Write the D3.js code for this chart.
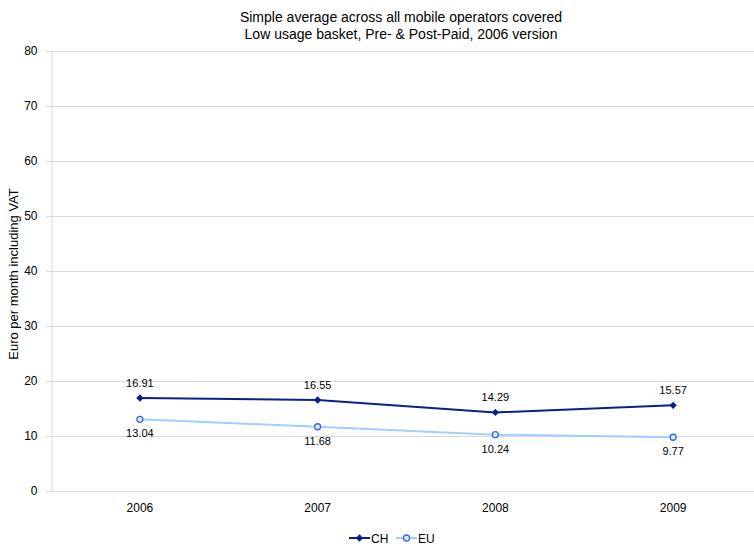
<!DOCTYPE html>
<html>
<head>
<meta charset="utf-8">
<script src="https://cdn.jsdelivr.net/npm/d3@7"></script>
<style>
  html, body { margin: 0; padding: 0; background: #fff; }
  svg { display: block; font-family: "Liberation Sans", Arial, sans-serif; }
</style>
</head>
<body>
<svg id="chart" width="754" height="549"></svg>
<script>
// Yearly averages, Euro per month including VAT
const years = ["2006", "2007", "2008", "2009"];
const chValues = [16.91, 16.55, 14.29, 15.57];
const euValues = [13.04, 11.68, 10.24, 9.77];
const yTicks = [0, 10, 20, 30, 40, 50, 60, 70, 80];
const titleLines = [
  "Simple average across all mobile operators covered",
  "Low usage basket, Pre- & Post-Paid, 2006 version"
];

const svg = d3.select("#chart");
const margin = { left: 51, top: 51, right: -8, bottom: 58 };
const W = 754, H = 549;
const plotW = W - margin.left - margin.right;
const plotH = H - margin.top - margin.bottom;

const x = d3.scaleBand().domain(years).range([margin.left, margin.left + plotW]);
const y = d3.scaleLinear().domain([0, 80]).range([margin.top + plotH, margin.top]);

// Gridlines
svg.append("g")
  .selectAll("line")
  .data(yTicks)
  .join("line")
  .attr("x1", margin.left - 5)
  .attr("x2", W)
  .attr("y1", d => Math.round(y(d)) + 0.5)
  .attr("y2", d => Math.round(y(d)) + 0.5)
  .attr("stroke", "#d9d9d9")
  .attr("stroke-width", 1);

// Y axis
const yAxis = d3.axisLeft(y).tickValues(yTicks).tickSize(5).tickPadding(9);
const gy = svg.append("g")
  .attr("transform", `translate(${margin.left + 0.5},0)`)
  .call(yAxis);
gy.select(".domain").attr("stroke", "#d9d9d9");
gy.selectAll(".tick line").attr("stroke", "#d9d9d9");
gy.selectAll(".tick text")
  .attr("font-size", 12)
  .attr("fill", "#000")
  .attr("font-family", "Liberation Sans, Arial, sans-serif");

// X axis labels
const xAxis = d3.axisBottom(x).tickSize(0).tickPadding(12);
const gx = svg.append("g")
  .attr("transform", `translate(0,${margin.top + plotH})`)
  .call(xAxis);
gx.select(".domain").remove();
gx.selectAll(".tick text")
  .attr("font-size", 12)
  .attr("fill", "#000")
  .attr("font-family", "Liberation Sans, Arial, sans-serif");

// Title
svg.append("g")
  .selectAll("text")
  .data(titleLines)
  .join("text")
  .attr("x", 401)
  .attr("y", (d, i) => 22 + i * 17)
  .attr("text-anchor", "middle")
  .attr("font-size", 14)
  .attr("fill", "#000")
  .text(d => d);

// Y axis title
svg.append("text")
  .attr("transform", `translate(18,${margin.top + plotH / 2 + 3}) rotate(-90)`)
  .attr("text-anchor", "middle")
  .attr("font-size", 13)
  .attr("fill", "#000")
  .text("Euro per month including VAT");

const cx = d => x(d) + x.bandwidth() / 2;
const line = d3.line().x(d => cx(d.year)).y(d => y(d.value));

const series = [
  { name: "CH", values: chValues, color: "#0b1f8c", marker: "diamond", labelDy: -11 },
  { name: "EU", values: euValues, color: "#9fcfff", marker: "circle", labelDy: 18 }
];

series.forEach(s => {
  const pts = years.map((yr, i) => ({ year: yr, value: s.values[i] }));
  svg.append("path")
    .datum(pts)
    .attr("d", line)
    .attr("fill", "none")
    .attr("stroke", s.color)
    .attr("stroke-width", 2);

  if (s.marker === "diamond") {
    svg.append("g").selectAll("path")
      .data(pts)
      .join("path")
      .attr("d", d3.symbol(d3.symbolDiamond2, 34)())
      .attr("transform", d => `translate(${cx(d.year)},${y(d.value)})`)
      .attr("fill", s.color);
  } else {
    svg.append("g").selectAll("circle")
      .data(pts)
      .join("circle")
      .attr("cx", d => cx(d.year))
      .attr("cy", d => y(d.value))
      .attr("r", 3)
      .attr("fill", "#dcecff")
      .attr("stroke", "#3366ee")
      .attr("stroke-width", 1.3);
  }

  svg.append("g").selectAll("text")
    .data(pts)
    .join("text")
    .attr("x", d => cx(d.year))
    .attr("y", d => y(d.value) + s.labelDy)
    .attr("text-anchor", "middle")
    .attr("font-size", 11)
    .attr("fill", "#000")
    .text(d => d.value.toFixed(2));
});

// Legend
const legend = svg.append("g").attr("transform", "translate(349,538)");
series.forEach((s, i) => {
  const g = legend.append("g").attr("transform", `translate(${i * 47},0)`);
  g.append("line").attr("x1", 0).attr("x2", 21).attr("y1", 0).attr("y2", 0)
    .attr("stroke", s.color).attr("stroke-width", 2);
  if (s.marker === "diamond") {
    g.append("path").attr("d", d3.symbol(d3.symbolDiamond2, 34)())
      .attr("transform", "translate(10.5,0)").attr("fill", s.color);
  } else {
    g.append("circle").attr("cx", 10.5).attr("cy", 0).attr("r", 3)
      .attr("fill", "#dcecff").attr("stroke", "#3366ee").attr("stroke-width", 1.3);
  }
  g.append("text").attr("x", 22).attr("y", 4.5)
    .attr("font-size", 12).attr("fill", "#000").text(s.name);
});
</script>
</body>
</html>
